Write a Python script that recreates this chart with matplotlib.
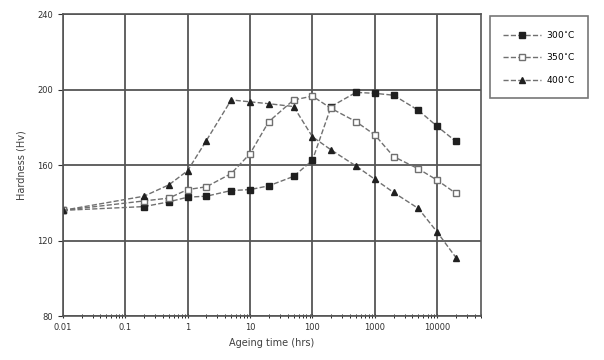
import numpy as np
import matplotlib
matplotlib.use("Agg")
import matplotlib.pyplot as plt

# ageing time (h) and hardness (Hv)
t_300 = [0.01, 0.2, 0.5, 1, 2, 5, 10, 20, 50, 100, 200, 500, 1000, 2000, 5000, 10000, 20000]
hv_300 = [136, 138, 140.5, 143, 143.5, 146.5, 147, 149, 154, 162.5, 191, 198.5, 198, 197, 189, 180.5, 172.5]

t_350 = [0.01, 0.2, 0.5, 1, 2, 5, 10, 20, 50, 100, 200, 500, 1000, 2000, 5000, 10000, 20000]
hv_350 = [136, 141, 142.5, 147, 148.5, 155.5, 166, 183, 194.5, 196.5, 190, 183, 176, 164.5, 158, 152, 145]

t_400 = [0.01, 0.2, 0.5, 1, 2, 5, 10, 20, 50, 100, 200, 500, 1000, 2000, 5000, 10000, 20000]
hv_400 = [136, 143.5, 149.5, 157, 173, 194.5, 193.5, 192.5, 191, 175, 168, 159.5, 152.5, 145.5, 137, 124.5, 111]

labels = ["300$^{\\circ}$C", "350$^{\\circ}$C", "400$^{\\circ}$C"]
xticks = [0.01, 0.1, 1, 10, 100, 1000, 10000]
xticklabels = ["0.01", "0.1", "1", "10", "100", "1000", "10000"]
yticks = [80, 120, 160, 200, 240]

fig = plt.figure(figsize=(6.04, 3.6), dpi=100)
ax = fig.add_axes([0.104, 0.122, 0.692, 0.839])

line_kw = dict(color="#707070", linestyle="--", linewidth=1.0, markersize=4.5)
ax.plot(t_300, hv_300, marker="s", markerfacecolor="#202020", markeredgecolor="#202020", label=labels[0], **line_kw)
ax.plot(t_350, hv_350, marker="s", markerfacecolor="white", markeredgecolor="#707070", label=labels[1], **line_kw)
ax.plot(t_400, hv_400, marker="^", markerfacecolor="#202020", markeredgecolor="#202020", label=labels[2], **line_kw)

ax.set_xscale("log")
ax.set_xlim(0.01, 50000)
ax.set_ylim(80, 240)
ax.set_xticks(xticks)
ax.set_xticklabels(xticklabels)
ax.set_yticks(yticks)
ax.tick_params(axis="both", labelsize=6, colors="#303030")
ax.tick_params(axis="x", which="both", direction="inout")
ax.tick_params(axis="x", which="minor", length=3)
ax.grid(True, which="major", color="#555555", linewidth=1.3)
ax.set_axisbelow(True)
for s in ax.spines.values():
    s.set_color("#555555")
    s.set_linewidth(1.2)

ax.set_xlabel("Ageing time (hrs)", fontsize=7, color="#404040")
ax.set_ylabel("Hardness (Hv)", fontsize=7, color="#404040", labelpad=8)

leg = fig.legend(loc="upper left", bbox_to_anchor=(0.804, 0.968), fontsize=6.5,
                 frameon=True, fancybox=False, edgecolor="#555555",
                 handlelength=4.2, borderpad=1.4, labelspacing=1.3, handletextpad=0.6)
leg.get_frame().set_linewidth(1.2)

fig.savefig("out.png", dpi=100)
